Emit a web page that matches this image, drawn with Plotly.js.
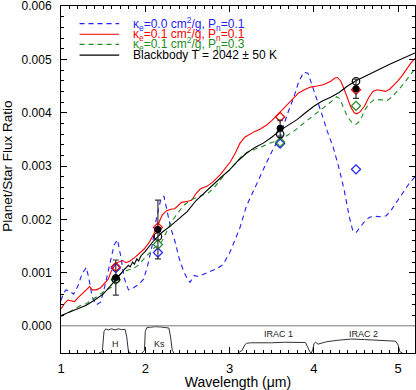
<!DOCTYPE html>
<html>
<head>
<meta charset="utf-8">
<script src="https://cdn.plot.ly/plotly-3.0.1.min.js"></script>
<style>
  html, body { margin: 0; padding: 0; background: #fff; }
  #myDiv { width: 416px; height: 390px; }
</style>
</head>
<body>
<div id="myDiv"></div>
<script>
// model spectra (wavelength in micron, planet/star flux ratio)
var blueX = [1.0,1.03,1.06,1.1,1.15,1.2,1.25,1.3,1.33,1.37,1.42,1.47,1.52,1.58,1.63,1.67,1.71,1.75,1.8,1.86,1.92,1.98,2.03,2.08,2.13,2.18,2.22,2.26,2.3,2.35,2.4,2.45,2.5,2.53,2.58,2.63,2.69,2.77,2.85,2.92,3.0,3.06,3.12,3.2,3.28,3.36,3.44,3.52,3.6,3.68,3.76,3.82,3.88,3.93,3.98,4.04,4.1,4.16,4.23,4.3,4.36,4.42,4.46,4.5,4.55,4.6,4.66,4.72,4.8,4.86,4.92,4.98,5.05,5.12,5.2];
var blueY = [0.00048,0.00062,0.00068,0.00066,0.00060,0.00075,0.00098,0.00110,0.00090,0.00055,0.00040,0.00045,0.00075,0.00120,0.00152,0.00162,0.00130,0.00090,0.00068,0.00072,0.00078,0.00088,0.00115,0.00150,0.00200,0.00235,0.00244,0.00215,0.00185,0.00160,0.00128,0.00105,0.00088,0.00082,0.00095,0.00093,0.00097,0.00102,0.00108,0.00115,0.00137,0.00160,0.00183,0.00225,0.00253,0.00280,0.00307,0.00333,0.00355,0.00395,0.00428,0.00458,0.00476,0.00474,0.00452,0.00425,0.00395,0.00365,0.00335,0.00295,0.00255,0.00205,0.00180,0.00175,0.00185,0.00196,0.00204,0.00206,0.00205,0.00207,0.00218,0.00232,0.00250,0.00265,0.00280];

var redX = [1.0,1.04,1.08,1.12,1.16,1.2,1.25,1.3,1.34,1.37,1.42,1.47,1.52,1.56,1.6,1.64,1.68,1.73,1.77,1.82,1.87,1.93,1.99,2.05,2.1,2.15,2.2,2.25,2.3,2.35,2.43,2.5,2.55,2.6,2.65,2.73,2.8,2.89,2.95,3.01,3.07,3.12,3.18,3.24,3.3,3.36,3.44,3.5,3.56,3.62,3.7,3.76,3.82,3.9,3.96,4.04,4.12,4.2,4.25,4.28,4.32,4.36,4.4,4.44,4.48,4.51,4.55,4.6,4.65,4.7,4.75,4.8,4.85,4.9,4.95,5.0,5.05,5.1,5.15,5.2];
var redY = [0.00032,0.00042,0.00049,0.00047,0.00046,0.00053,0.00060,0.00068,0.00074,0.00068,0.00068,0.00072,0.00080,0.00088,0.00104,0.00114,0.00120,0.00123,0.00119,0.00122,0.00128,0.00136,0.00145,0.00158,0.00172,0.00190,0.00208,0.00216,0.00219,0.00220,0.00232,0.00234,0.00236,0.00248,0.00257,0.00262,0.00270,0.00284,0.00295,0.00308,0.00325,0.00342,0.00354,0.00360,0.00365,0.00369,0.00377,0.00385,0.00395,0.00404,0.00418,0.00428,0.00437,0.00444,0.00448,0.00450,0.00453,0.00459,0.00465,0.00466,0.00459,0.00444,0.00425,0.00410,0.00400,0.00398,0.00402,0.00412,0.00428,0.00440,0.00443,0.00441,0.00440,0.00444,0.00452,0.00460,0.00470,0.00482,0.00493,0.00502];

var greenX = [1.0,1.05,1.1,1.15,1.2,1.25,1.3,1.35,1.4,1.45,1.5,1.55,1.6,1.65,1.7,1.75,1.8,1.85,1.9,1.95,2.0,2.05,2.1,2.15,2.2,2.25,2.3,2.37,2.45,2.53,2.6,2.68,2.75,2.82,2.89,2.95,3.01,3.08,3.15,3.22,3.3,3.38,3.46,3.56,3.66,3.76,3.86,3.96,4.05,4.12,4.2,4.27,4.31,4.35,4.4,4.45,4.5,4.55,4.6,4.65,4.72,4.8,4.87,4.93,5.0,5.07,5.13,5.2];
var greenY = [0.00018,0.00022,0.00027,0.00031,0.00036,0.00040,0.00042,0.00047,0.00053,0.00058,0.00064,0.00068,0.00073,0.00085,0.00097,0.00103,0.00105,0.00108,0.00112,0.00120,0.00128,0.00137,0.00146,0.00152,0.00160,0.00175,0.00192,0.00209,0.00225,0.00236,0.00240,0.00245,0.00250,0.00260,0.00275,0.00286,0.00294,0.00308,0.00320,0.00327,0.00331,0.00336,0.00342,0.00347,0.00355,0.00365,0.00378,0.00390,0.00402,0.00410,0.00420,0.00430,0.00426,0.00410,0.00392,0.00382,0.00378,0.00385,0.00404,0.00416,0.00425,0.00424,0.00423,0.00430,0.00442,0.00455,0.00468,0.00482];

var bbX = [1.0,1.1,1.2,1.3,1.4,1.5,1.6,1.7,1.75,1.8,1.82,1.85,1.87,1.9,1.92,1.95,2.0,2.1,2.2,2.3,2.4,2.5,2.6,2.7,2.8,2.9,3.0,3.1,3.2,3.3,3.4,3.5,3.6,3.7,3.8,3.9,4.0,4.1,4.2,4.3,4.4,4.5,4.6,4.7,4.8,4.9,5.0,5.1,5.2];
var bbY = [0.00020,0.00026,0.00032,0.00039,0.00049,0.00060,0.00078,0.00098,0.00106,0.00114,0.00111,0.00120,0.00116,0.00126,0.00122,0.00132,0.00140,0.00160,0.00176,0.00188,0.00201,0.00215,0.00235,0.00250,0.00264,0.00279,0.00293,0.00310,0.00324,0.00335,0.00343,0.00354,0.00367,0.00377,0.00387,0.00400,0.00412,0.00422,0.00429,0.00438,0.00450,0.00460,0.00468,0.00476,0.00484,0.00491,0.00498,0.00505,0.00512];

// band-integrated points
var bandX = [1.65, 2.15, 3.6, 4.5];
var obsY = [0.00091, 0.00181, 0.00371, 0.00445];
var obsErr = [0.00033, 0.00055, 0.00015, 0.00018];
var bbBand = [0.00088, 0.00168, 0.00360, 0.00459];
var redBand = [0.00111, 0.00185, 0.00392, 0.00443];
var greenBand = [0.00087, 0.00153, 0.00345, 0.00413];
var blueBand = [0.00109, 0.00138, 0.00342, 0.00294];

// filter transmission curves
var hX = [1.45,1.49,1.51,1.53,1.56,1.6,1.64,1.68,1.72,1.76,1.78,1.8,1.83];
var hT = [0,0.05,0.8,0.9,0.86,0.9,0.86,0.9,0.87,0.88,0.6,0.05,0];
var ksX = [1.96,1.99,2.0,2.02,2.06,2.12,2.18,2.24,2.28,2.3,2.32,2.34];
var ksT = [0,0.1,0.8,0.95,0.96,0.98,0.97,0.96,0.93,0.6,0.1,0];
var i1X = [3.1,3.15,3.18,3.2,3.25,3.35,3.5,3.65,3.8,3.9,3.93,3.95,3.97];
var i1T = [0,0.1,0.3,0.36,0.38,0.37,0.38,0.4,0.4,0.39,0.2,0.05,0];
var i2X = [3.97,3.99,4.0,4.02,4.05,4.1,4.15,4.3,4.45,4.6,4.75,4.9,4.97,5.0,5.02,5.05];
var i2T = [0,0.15,0.35,0.4,0.33,0.38,0.42,0.48,0.52,0.5,0.48,0.45,0.44,0.3,0.05,0];
var filterNames = ['H', 'Ks', 'IRAC 1', 'IRAC 2'];
var filterLabelX = [1.65, 2.17, 3.58, 4.59];
var filterLabelY = [0.35, 0.35, 0.72, 0.72];

var BLUE = 'rgb(30,30,255)', RED = 'rgb(255,0,0)', GREEN = 'rgb(34,139,34)';

function filt(x, y) {
  return {x: x, y: y, xaxis: 'x', yaxis: 'y2', mode: 'lines',
    line: {color: '#333', width: 1}, showlegend: false, hoverinfo: 'skip'};
}
function band(y, sym, col, size) {
  return {x: bandX, y: y, xaxis: 'x2', yaxis: 'y', mode: 'markers', showlegend: false,
    marker: {symbol: sym, size: size, color: col, line: {color: col, width: 1.2}}};
}

var data = [
  {x: blueX, y: blueY, xaxis: 'x2', yaxis: 'y', mode: 'lines', line: {color: BLUE, width: 1.1, dash: '5px,4px'}},
  {x: redX, y: redY, xaxis: 'x2', yaxis: 'y', mode: 'lines', line: {color: RED, width: 1.1}},
  {x: greenX, y: greenY, xaxis: 'x2', yaxis: 'y', mode: 'lines', line: {color: GREEN, width: 1.1, dash: '5px,4px'}},
  {x: bbX, y: bbY, xaxis: 'x2', yaxis: 'y', mode: 'lines', line: {color: 'black', width: 1.1}},
  band(blueBand, 'diamond-open', BLUE, 7),
  band(greenBand, 'diamond-open', GREEN, 7),
  band(redBand, 'diamond-open', RED, 7),
  band(bbBand, 'circle-open', 'black', 7.5),
  {x: bandX, y: obsY, xaxis: 'x2', yaxis: 'y', mode: 'markers', showlegend: false,
   marker: {symbol: 'circle', size: 7, color: 'black'},
   error_y: {type: 'data', array: obsErr, color: '#333', thickness: 1.2, width: 3}},
  filt(hX, hT), filt(ksX, ksT), filt(i1X, i1T), filt(i2X, i2T)
];

// hand-made legend (IDL style, tight rows)
var legendText = [
  'κ<sub>e</sub>=0.0 cm<sup>2</sup>/g, P<sub>n</sub>=0.1',
  'κ<sub>e</sub>=0.1 cm<sup>2</sup>/g, P<sub>n</sub>=0.1',
  'κ<sub>e</sub>=0.1 cm<sup>2</sup>/g, P<sub>n</sub>=0.3',
  'Blackbody T = 2042 ± 50 K'
];
var legendColor = [BLUE, RED, GREEN, 'black'];
var legendDash = ['5px,4px', 'solid', '5px,4px', 'solid'];
var legendRowY = [0.00567, 0.00547, 0.00528, 0.00508];

var shapes = [
  {type: 'line', xref: 'paper', x0: 0, x1: 1, yref: 'y', y0: 0, y1: 0, line: {color: 'black', width: 1}}
];
var annotations = [];
for (var i = 0; i < legendText.length; i++) {
  shapes.push({type: 'line', xref: 'x2', yref: 'y', x0: 1.22, x1: 1.69, y0: legendRowY[i], y1: legendRowY[i],
    line: {color: legendColor[i], width: 1.1, dash: legendDash[i]}});
  annotations.push({xref: 'x2', yref: 'y', x: 1.83, y: legendRowY[i], xanchor: 'left', yanchor: 'middle',
    text: legendText[i], showarrow: false, font: {size: 12, color: legendColor[i]}});
}
for (var j = 0; j < filterNames.length; j++) {
  annotations.push({xref: 'x', yref: 'y2', x: filterLabelX[j], y: filterLabelY[j], text: filterNames[j],
    showarrow: false, font: {size: 9, color: '#222'}});
}

var layout = {
  width: 416, height: 390,
  margin: {l: 61, r: 1, t: 6, b: 37},
  paper_bgcolor: 'white', plot_bgcolor: 'white',
  font: {family: 'Liberation Sans, Arial, sans-serif', color: 'black'},
  showlegend: false,
  xaxis: {anchor: 'y2', range: [1, 5.2], dtick: 1, ticks: 'inside', ticklen: 6, tickcolor: 'black',
    showline: true, linecolor: 'black', linewidth: 1, showgrid: false, zeroline: false,
    minor: {dtick: 0.1, ticks: 'inside', ticklen: 3, tickcolor: 'black', showgrid: false},
    tickfont: {size: 13}, ticklabelstandoff: 3,
    title: {text: 'Wavelength (μm)', font: {size: 14}, standoff: 2}},
  xaxis2: {anchor: 'y', matches: 'x', side: 'top', showticklabels: false, ticks: 'inside', ticklen: 6,
    tickcolor: 'black', dtick: 1, showline: true, linecolor: 'black', showgrid: false, zeroline: false,
    minor: {dtick: 0.1, ticks: 'inside', ticklen: 3, tickcolor: 'black', showgrid: false}},
  yaxis: {domain: [0.0774, 1], anchor: 'x2', range: [0, 0.0060001], dtick: 0.001, tickformat: '.3f',
    ticks: 'inside', ticklen: 6, tickcolor: 'black', mirror: 'ticks', showline: true, linecolor: 'black',
    showgrid: false, zeroline: false, tickfont: {size: 12}, ticklabelstandoff: 6, ticklabeloverflow: 'allow',
    minor: {dtick: 0.0002, ticks: 'inside', ticklen: 3, tickcolor: 'black', showgrid: false},
    title: {text: 'Planet/Star Flux Ratio', font: {size: 13.5}, standoff: 8}},
  yaxis2: {domain: [0, 0.0774], anchor: 'x', range: [0, 1], showticklabels: false, ticks: '',
    showline: true, linecolor: 'black', mirror: true, showgrid: false, zeroline: false},
  shapes: shapes,
  annotations: annotations
};

Plotly.newPlot('myDiv', data, layout, {displayModeBar: false, staticPlot: true});
</script>
</body>
</html>
